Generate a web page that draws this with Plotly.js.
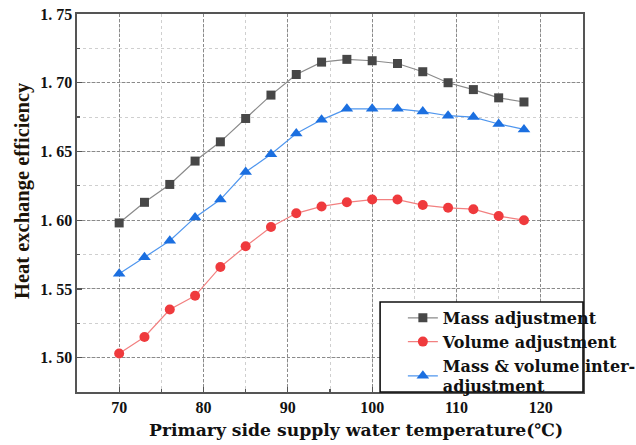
<!DOCTYPE html>
<html>
<head>
<meta charset="utf-8">
<script src="https://cdn.plot.ly/plotly-3.0.1.min.js"></script>
<style>html,body{margin:0;padding:0;background:#fff;}#chart{width:636px;height:445px;}</style>
</head>
<body>
<div id="chart"></div>
<script>
const temperature = [70, 73, 76, 79, 82, 85, 88, 91, 94, 97, 100, 103, 106, 109, 112, 115, 118];
const massAdjustment = [1.598, 1.613, 1.626, 1.643, 1.657, 1.674, 1.691, 1.706, 1.715, 1.717, 1.716, 1.714, 1.708, 1.700, 1.695, 1.689, 1.686];
const volumeAdjustment = [1.503, 1.515, 1.535, 1.545, 1.566, 1.581, 1.595, 1.605, 1.610, 1.613, 1.615, 1.615, 1.611, 1.609, 1.608, 1.603, 1.600];
const interAdjustment = [1.561, 1.573, 1.585, 1.602, 1.615, 1.635, 1.648, 1.663, 1.673, 1.681, 1.681, 1.681, 1.679, 1.676, 1.675, 1.670, 1.666];
const seriesNames = ["Mass adjustment", "Volume adjustment", "Mass &amp; volume inter-<br>adjustment"];
const xTicks = [70, 80, 90, 100, 110, 120];
const yTicks = [1.50, 1.55, 1.60, 1.65, 1.70, 1.75];
const yTickLabels = ["1. 50", "1. 55", "1. 60", "1. 65", "1. 70", "1. 75"];

const tickFont = "'Liberation Serif', 'Times New Roman', serif";
const textFont = "'DejaVu Serif', serif";

const traces = [
  {x: temperature, y: massAdjustment, name: seriesNames[0], mode: "lines+markers",
   line: {color: "#8a8a8a", width: 1.2}, marker: {symbol: "square", size: 9, color: "#474747"}},
  {x: temperature, y: volumeAdjustment, name: seriesNames[1], mode: "lines+markers",
   line: {color: "#f28080", width: 1.2}, marker: {symbol: "circle", size: 10, color: "#ef3a3d"}},
  {x: temperature, y: interAdjustment, name: seriesNames[2], mode: "lines+markers",
   line: {color: "#4f96ee", width: 1.2}, marker: {symbol: "triangle-up", size: 11, color: "#1b6fe0"}}
];

const axisCommon = {
  showline: true, mirror: true, linecolor: "#555", linewidth: 1.6,
  ticks: "inside", ticklen: 5, tickwidth: 1.3, tickcolor: "#555",
  showgrid: true, gridcolor: "#8a8a8a", gridwidth: 1, griddash: "3px,2px",
  zeroline: false, automargin: false,
  tickfont: {family: tickFont, size: 16, color: "#111", weight: "bold"}
};

const layout = {
  width: 636, height: 445,
  margin: {l: 77, r: 53, t: 14, b: 53, autoexpand: false},
  paper_bgcolor: "#fff", plot_bgcolor: "#fff",
  showlegend: true,
  xaxis: Object.assign({}, axisCommon, {
    range: [65, 125], tickvals: xTicks,
    minor: {dtick: 5, tick0: 65, showgrid: true, gridcolor: "#cfcfcf", griddash: "dot", gridwidth: 1, ticks: "inside", ticklen: 3, tickcolor: "#555"}
  }),
  yaxis: Object.assign({}, axisCommon, {
    range: [1.475, 1.75], tickvals: yTicks, ticktext: yTickLabels,
    minor: {dtick: 0.025, tick0: 1.475, showgrid: true, gridcolor: "#cfcfcf", griddash: "dot", gridwidth: 1, ticks: "inside", ticklen: 3, tickcolor: "#555"}
  }),
  legend: {
    x: 0.644, y: 0.241, xanchor: "left", yanchor: "top",
    bgcolor: "rgba(0,0,0,0)", borderwidth: 0,
    font: {family: textFont, size: 16, color: "#111", weight: "bold"},
    tracegroupgap: 0, itemwidth: 30
  },
  shapes: [
    {type: "rect", xref: "paper", yref: "paper", x0: 0.599, x1: 1.0, y0: 0, y1: 0.238,
     fillcolor: "#fff", line: {color: "#111", width: 1.6}, layer: "above"}
  ],
  annotations: [
    {text: "Primary side supply water temperature(℃)", xref: "paper", yref: "paper",
     x: 0.551, y: -0.1005, yanchor: "middle", xanchor: "center", showarrow: false,
     font: {family: textFont, size: 17.2, color: "#111", weight: "bold"}},
    {text: "Heat exchange efficiency", xref: "paper", yref: "paper",
     x: -0.109, y: 0.534, xanchor: "center", yanchor: "middle", textangle: -90, showarrow: false,
     font: {family: tickFont, size: 20.5, color: "#1c1408", weight: "bold"}}
  ]
};

Plotly.newPlot("chart", traces, layout, {displayModeBar: false, staticPlot: true});
</script>
</body>
</html>
